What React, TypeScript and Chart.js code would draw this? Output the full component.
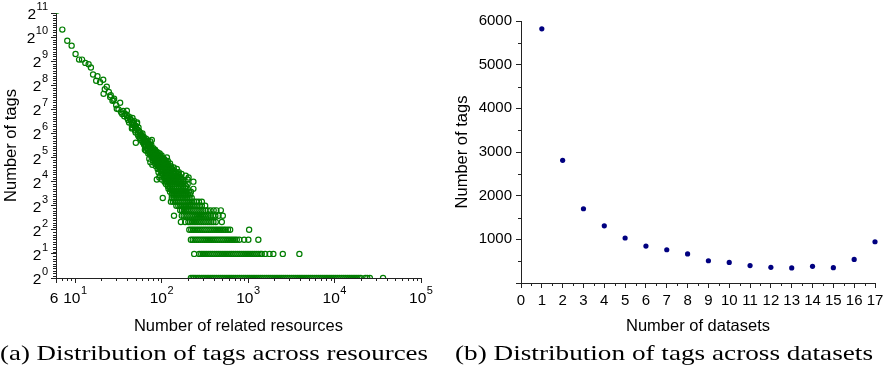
import React, { useEffect, useRef } from 'react';
import { Chart, registerables } from 'chart.js';
Chart.register(...registerables);

const SANS = '"Liberation Sans", Arial, sans-serif';
const SERIF = '"Liberation Serif", "Times New Roman", serif';
const AXIS = '#222';
const GREEN = 'rgb(0,125,0)';
const NAVY = '#000080';

// ---------- (a) Distribution of tags across resources ----------
const leftXTicks = [6, 10, 100, 1000, 10000, 100000];
const leftXTickBase = ['6', '10', '10', '10', '10', '10'];
const leftXTickExp = ['', '1', '2', '3', '4', '5'];
const leftYTicks = [1, 2, 4, 8, 16, 32, 64, 128, 256, 512, 1024, 2048];
const leftYTickBase = ['2', '2', '2', '2', '2', '2', '2', '2', '2', '2', '2', '2'];
const leftYTickExp = ['0', '1', '2', '3', '4', '5', '6', '7', '8', '9', '10', '11'];
const leftXMinor = [7, 8, 9, 20, 30, 40, 50, 60, 70, 80, 90, 200, 300, 400, 500, 600, 700, 800, 900,
  2000, 3000, 4000, 5000, 6000, 7000, 8000, 9000, 20000, 30000, 40000, 50000, 60000, 70000, 80000, 90000];

// upper scatter cloud: [related resources, tags]
const cloudPoints: [number, number][] = [
  [6.2, 2200], [7.1, 1270], [8.1, 922], [9.1, 800], [10.1, 630], [11.1, 536], [12.0, 536], [13.1, 487],
  [14.3, 468], [15.2, 427], [16.1, 349], [18.1, 333], [17.5, 291], [19.4, 280], [21.1, 300], [23.2, 245],
  [22, 228], [24.5, 211], [21.3, 200], [25.8, 192], [25.4, 183], [28.2, 174], [27.7, 167], [27, 164],
  [33.1, 155], [29.8, 144], [30.3, 130], [31.7, 128], [39.6, 123], [36, 122], [34, 118], [35, 112],
  [38, 112], [37, 105], [39.6, 108], [40, 100], [43.3, 98], [41, 94], [44, 94], [42, 88], [46, 88],
  [47.4, 85], [51.7, 85], [45, 82], [48, 82], [49, 78], [46, 76], [51, 74], [45.3, 74], [49, 70],
  [54, 70], [50, 66], [56, 66], [53, 62], [58, 62], [56.5, 61], [54, 59], [60, 59], [56, 56], [62, 56],
  [77, 53], [58, 53], [64, 53], [61.8, 51], [73.8, 51], [50.3, 49], [60, 50], [66, 50], [62, 48],
  [68, 48], [72, 47], [63, 46], [70, 46], [76, 46], [65, 44], [72, 44], [68, 42], [74, 42], [80, 42],
  [64, 40], [70, 40], [78, 40], [84, 40], [66, 39], [76, 38], [86, 38], [72, 37], [82, 37], [90, 37],
  [70, 36], [78, 36], [88, 36], [95, 36], [74, 35], [84, 35], [77, 34], [80, 34], [90, 34], [100, 34],
  [76, 33], [86, 33], [98, 33], [82, 32], [92, 32], [115, 32], [72, 31], [88, 31], [100, 31], [84, 30],
  [94, 30], [108, 30], [80, 29], [92, 29], [105, 29], [118, 29], [74, 28], [88, 28], [98, 28], [112, 28],
  [84, 27], [96, 27], [110, 27], [125, 27], [78, 26], [90, 26], [102, 26], [116, 26], [86, 25], [100, 25],
  [112, 25], [128, 25], [94, 24], [106, 24], [120, 24], [138, 24], [90, 23], [101, 23], [116, 23],
  [132, 23], [150, 23], [98, 22], [110, 22], [122, 22], [140, 22], [92, 21], [108, 21], [120, 21],
  [136, 21], [158, 21], [104, 20], [116, 20], [126, 20], [145, 20], [170, 20], [96, 19], [112, 19],
  [126, 19], [140, 19], [160, 19], [190, 19], [108, 18], [122, 18], [137, 18], [150, 18], [168, 18],
  [205, 18], [100, 17], [118, 17], [130, 17], [142, 17], [156, 17], [175, 17], [200, 17],
  [88, 17], [112, 17], [124, 17], [136, 17], [148, 17], [165, 17], [94, 18], [115, 18], [130, 18],
  [144, 18], [158, 18], [102, 19], [119, 19], [133, 19], [150, 19], [110, 20], [121, 20], [136, 20],
  [155, 20], [100, 21], [114, 21], [128, 21], [146, 21], [104, 22], [116, 22], [130, 22], [96, 23],
  [109, 23], [124, 23], [98, 24], [112, 24], [128, 24], [92, 25], [106, 25], [120, 25], [95, 26],
  [109, 26], [90, 27], [103, 27], [117, 27], [93, 28], [105, 28], [86, 29], [98, 29], [110, 29],
  [90, 30], [100, 30], [80, 31], [94, 31], [106, 31], [87, 32], [97, 32], [80, 33], [91, 33], [85, 34],
  [95, 34], [80, 35], [89, 35], [74, 36], [84, 36], [80, 37], [86, 37], [72, 38], [81, 38], [76, 39],
  [84, 39], [74, 40], [68, 41], [78, 41], [72, 43], [66, 45], [74, 45], [70, 48], [64, 51], [70, 52],
  [60, 55], [66, 55], [62, 58], [58, 60], [60, 64], [55, 68], [52, 72], [54, 76], [50, 80], [52, 88],
  [48, 92], [46, 100], [42, 104],
];

// low-count rows (tags = 1 ... 16): related-resource values in each row
const row1X = [218, 228, 237, 249, 262, 274, 289, 303, 318, 335, 352, 371, 390, 410, 431, 454, 478, 503, 529,
  557, 586, 617, 649, 683, 719, 757, 797, 839, 883, 929, 978, 1029, 1083, 1140, 1200, 1263, 1329, 1399, 1472,
  1549, 1630, 1716, 1806, 1901, 2001, 2106, 2216, 2332, 2455, 2584, 2720, 2863, 3013, 3171, 3338, 3514, 3699,
  3893, 4098, 4313, 4540, 4779, 5030, 5295, 5573, 5866, 6175, 6500, 6842, 7202, 7581, 7980, 8400, 8842, 9307,
  9797, 10313, 10856, 11427, 12028, 12661, 13328, 14029, 14767, 15544, 16362, 17223, 18130, 19084, 20088,
  22700, 23900, 25600, 36400];
const row2X = [238, 272, 287, 301, 317, 333, 351, 369, 388, 408, 430, 452, 476, 501, 527, 555, 584, 614, 646,
  680, 716, 753, 793, 834, 878, 924, 972, 1023, 1077, 1133, 1193, 1255, 1321, 1390, 1440, 1574, 1770, 1960,
  2520, 3920];
const row3X = [218, 229, 241, 254, 267, 281, 296, 311, 327, 344, 362, 381, 401, 422, 444, 467, 492, 517, 545,
  573, 603, 635, 668, 703, 740, 792, 900, 1007, 1314];
const row4X = [209, 220, 231, 243, 256, 269, 283, 298, 314, 330, 348, 366, 385, 405, 427, 449, 473, 497, 524,
  551, 585, 620, 1028];
const row5X = [167, 187, 204, 214, 225, 237, 249, 262, 276, 290, 306, 322, 339, 356, 375, 397, 423, 497];
const row6X = [139, 171, 180, 189, 199, 210, 221, 232, 244, 257, 271, 285, 300, 316, 332, 350, 370, 392, 418, 455, 510];
const row7X = [164, 172, 181, 191, 201, 211, 222, 234, 246, 259, 273, 288, 303, 320, 342, 368, 400, 430, 484];
const row8X = [148, 156, 164, 173, 182, 191, 201, 212, 223, 235, 247, 260, 274, 292, 319];
const row9X = [128, 135, 142, 149, 157, 165, 174, 183, 193, 203, 214, 225, 237, 252, 270, 292];
const row10X = [103, 131, 138, 145, 153, 161, 169, 178, 188, 198, 210, 223];
const row11X = [131, 138, 145, 153, 161, 170, 180, 190, 201, 214];
const row12X = [125, 132, 139, 147, 155, 164, 173, 183, 194, 206, 218];
const row13X = [120, 126, 133, 141, 149, 158, 167, 177, 188, 200, 233];
const row14X = [118, 125, 132, 140, 148, 157, 167, 178, 192];
const row15X = [112, 119, 126, 134, 142, 151, 161, 172, 185, 200];
const row16X = [108, 115, 122, 130, 138, 147, 157, 168, 180, 233];
const rowTags = [1, 2, 3, 4, 5, 6, 7, 8, 9, 10, 11, 12, 13, 14, 15, 16];
const rowsX = [row1X, row2X, row3X, row4X, row5X, row6X, row7X, row8X, row9X, row10X, row11X, row12X,
  row13X, row14X, row15X, row16X];

// ---------- (b) Distribution of tags across datasets ----------
const datasetCounts = [1, 2, 3, 4, 5, 6, 7, 8, 9, 10, 11, 12, 13, 14, 15, 16, 17];
const tagsPerDatasetCount = [5820, 2810, 1700, 1310, 1030, 845, 762, 665, 510, 472, 398, 358, 345, 382, 352, 540, 945];
const rightXMinor = [0.5, 1.5, 2.5, 3.5, 4.5, 5.5, 6.5, 7.5, 8.5, 9.5, 10.5, 11.5, 12.5, 13.5, 14.5, 15.5, 16.5];
const rightYMinor = [500, 1500, 2500, 3500, 4500, 5500];

const minorTicksPlugin = {
  id: 'minorTicks',
  afterDraw(chart: any, _args: any, opts: any) {
    const { ctx } = chart;
    const xs = chart.scales.x;
    const ys = chart.scales.y;
    ctx.save();
    ctx.strokeStyle = AXIS;
    ctx.lineWidth = 1;
    ctx.beginPath();
    for (const v of opts.x || []) {
      const px = Math.round(xs.getPixelForValue(v)) + 0.5;
      ctx.moveTo(px, chart.chartArea.bottom);
      ctx.lineTo(px, chart.chartArea.bottom + opts.len);
    }
    for (const v of opts.y || []) {
      const py = Math.round(ys.getPixelForValue(v)) + 0.5;
      ctx.moveTo(chart.chartArea.left, py);
      ctx.lineTo(chart.chartArea.left - opts.len, py);
    }
    ctx.stroke();
    ctx.restore();
  },
};

// power-style tick labels (base with raised exponent), placed at the scales' own tick pixels
const powerLabelsPlugin = {
  id: 'powerLabels',
  afterDraw(chart: any, _args: any, opts: any) {
    if (!opts || !opts.enabled) return;
    const { ctx, chartArea } = chart;
    const xs = chart.scales.x;
    const ys = chart.scales.y;
    const baseFont = `15.5px ${SANS}`;
    const expFont = `11px ${SANS}`;
    ctx.save();
    ctx.fillStyle = '#000';
    ctx.textBaseline = 'alphabetic';
    ctx.textAlign = 'left';
    const measure = (base: string, exp: string) => {
      ctx.font = baseFont;
      const bw = ctx.measureText(base).width;
      ctx.font = expFont;
      const ew = exp ? ctx.measureText(exp).width + 0.5 : 0;
      return [bw, ew];
    };
    const draw = (base: string, exp: string, x: number, yMid: number, bw: number) => {
      ctx.font = baseFont;
      ctx.fillText(base, x, yMid + 6);
      if (exp) {
        ctx.font = expFont;
        ctx.fillText(exp, x + bw + 0.5, yMid - 3.2);
      }
    };
    opts.yTicks.forEach((v: number, i: number) => {
      const py = ys.getPixelForValue(v);
      const [bw, ew] = measure(opts.yBase[i], opts.yExp[i]);
      const x = chartArea.left - 8 - bw - ew;
      draw(opts.yBase[i], opts.yExp[i], x, py, bw);
    });
    opts.xTicks.forEach((v: number, i: number) => {
      const px = xs.getPixelForValue(v);
      const [bw, ew] = measure(opts.xBase[i], opts.xExp[i]);
      const x = i === 0 ? px - bw / 2 - 2 : px - (bw + ew) / 2;
      draw(opts.xBase[i], opts.xExp[i], x, chartArea.bottom + 19, bw);
    });
    ctx.restore();
  },
};

const tickFont = { family: SANS, size: 15 };
const titleFont = { family: SANS, size: 16.5 };

function leftConfig(): any {
  const points = [
    ...cloudPoints.map(([x, y]) => ({ x, y })),
    ...rowsX.flatMap((xs, i) => xs.map((x) => ({ x, y: rowTags[i] }))),
  ];
  const yMinor: number[] = [];
  for (let i = 0; i < leftYTicks.length - 1; i++) {
    for (let k = 1; k < 10; k++) yMinor.push(leftYTicks[i] * Math.pow(2, k / 10));
  }
  return {
    type: 'scatter',
    data: {
      datasets: [{
        data: points,
        pointRadius: 2.6,
        pointBorderWidth: 1.2,
        pointBorderColor: GREEN,
        pointBackgroundColor: 'rgba(0,0,0,0)',
        showLine: false,
        clip: { left: 10, top: 0, right: 10, bottom: 0 },
      }],
    },
    plugins: [minorTicksPlugin, powerLabelsPlugin],
    options: {
      animation: false,
      responsive: false,
      events: [],
      layout: { padding: { top: 10, right: 19, left: 0, bottom: 0 } },
      plugins: {
        legend: { display: false },
        tooltip: { enabled: false },
        minorTicks: { x: leftXMinor, y: yMinor, len: 3 },
        powerLabels: {
          enabled: true,
          xTicks: leftXTicks, xBase: leftXTickBase, xExp: leftXTickExp,
          yTicks: leftYTicks, yBase: leftYTickBase, yExp: leftYTickExp,
        },
      },
      scales: {
        x: {
          type: 'logarithmic', min: 6, max: 100000, position: 'bottom',
          afterBuildTicks: (s: any) => { s.ticks = leftXTicks.map((v) => ({ value: v })); },
          afterFit: (s: any) => { s.height = 95; },
          ticks: { callback: () => '', autoSkip: false, maxRotation: 0, padding: 5, font: tickFont, color: '#000' },
          grid: { display: true, drawOnChartArea: false, tickLength: 5, color: AXIS },
          border: { display: true, color: AXIS, width: 1 },
          title: { display: true, text: 'Number of related resources', font: titleFont, color: '#000', padding: { top: 0, bottom: 37 } },
        },
        y: {
          type: 'logarithmic', min: 1, max: 2048, position: 'left',
          afterBuildTicks: (s: any) => { s.ticks = leftYTicks.map((v) => ({ value: v })); },
          afterFit: (s: any) => { s.width = 56; },
          ticks: { callback: () => '', autoSkip: false, padding: 4, font: tickFont, color: '#000' },
          grid: { display: true, drawOnChartArea: false, tickLength: 5, color: AXIS },
          border: { display: true, color: AXIS, width: 1 },
          title: { display: true, text: 'Number of tags', font: titleFont, color: '#000', padding: { top: 2, bottom: 0 } },
        },
      },
    },
  };
}

function rightConfig(): any {
  return {
    type: 'scatter',
    data: {
      datasets: [{
        data: datasetCounts.map((x, i) => ({ x, y: tagsPerDatasetCount[i] })),
        pointRadius: 2.6,
        pointBorderWidth: 0,
        pointBackgroundColor: NAVY,
        showLine: false,
        clip: false,
      }],
    },
    plugins: [minorTicksPlugin],
    options: {
      animation: false,
      responsive: false,
      events: [],
      layout: { padding: { top: 21, right: 17, left: 0, bottom: 0 } },
      plugins: {
        legend: { display: false },
        tooltip: { enabled: false },
        minorTicks: { x: rightXMinor, y: rightYMinor, len: 3 },
      },
      scales: {
        x: {
          type: 'linear', min: 0, max: 17, position: 'bottom',
          afterFit: (s: any) => { s.height = 90; },
          ticks: { stepSize: 1, autoSkip: false, maxRotation: 0, padding: 4, font: tickFont, color: '#000' },
          grid: { display: true, drawOnChartArea: false, tickLength: 5, color: AXIS },
          border: { display: true, color: AXIS, width: 1 },
          title: { display: true, text: 'Number of datasets', font: titleFont, color: '#000', padding: { top: 0, bottom: 37 } },
        },
        y: {
          type: 'linear', min: 0, max: 6000, position: 'left',
          afterFit: (s: any) => { s.width = 81; },
          ticks: { stepSize: 1000, callback: (v: any) => (v === 0 ? '' : String(v)), padding: 4, font: tickFont, color: '#000' },
          grid: { display: true, drawOnChartArea: false, tickLength: 5, color: AXIS },
          border: { display: true, color: AXIS, width: 1 },
          title: { display: true, text: 'Number of tags', font: titleFont, color: '#000', padding: { top: 13, bottom: 0 } },
        },
      },
    },
  };
}

function Caption({ text, left, width, top }: { text: string; left: number; width: number; top: number }) {
  const ref = useRef<HTMLSpanElement>(null);
  useEffect(() => {
    const el = ref.current;
    if (!el) return;
    el.style.transform = 'none';
    const w = el.getBoundingClientRect().width;
    if (w > 0) el.style.transform = `scaleX(${width / w})`;
  }, [width]);
  return (
    <span
      ref={ref}
      style={{
        position: 'absolute', left, top, whiteSpace: 'nowrap', fontFamily: SERIF, fontSize: 21,
        lineHeight: '24px', color: '#000', transformOrigin: '0 0', display: 'inline-block',
      }}
    >
      {text}
    </span>
  );
}

export default function App() {
  const leftRef = useRef<HTMLCanvasElement>(null);
  const rightRef = useRef<HTMLCanvasElement>(null);
  useEffect(() => {
    const a = new Chart(leftRef.current as HTMLCanvasElement, leftConfig());
    const b = new Chart(rightRef.current as HTMLCanvasElement, rightConfig());
    return () => { a.destroy(); b.destroy(); };
  }, []);
  return (
    <div style={{ position: 'absolute', left: 0, top: 0, width: 892, height: 373, background: '#fff', overflow: 'hidden' }}>
      <canvas ref={leftRef} width={440} height={373} style={{ position: 'absolute', left: 0, top: 0, width: 440, height: 373 }} />
      <canvas ref={rightRef} width={452} height={373} style={{ position: 'absolute', left: 440, top: 0, width: 452, height: 373 }} />
      <Caption text="(a) Distribution of tags across resources" left={0} width={428} top={341} />
      <Caption text="(b) Distribution of tags across datasets" left={455} width={418} top={341} />
    </div>
  );
}
